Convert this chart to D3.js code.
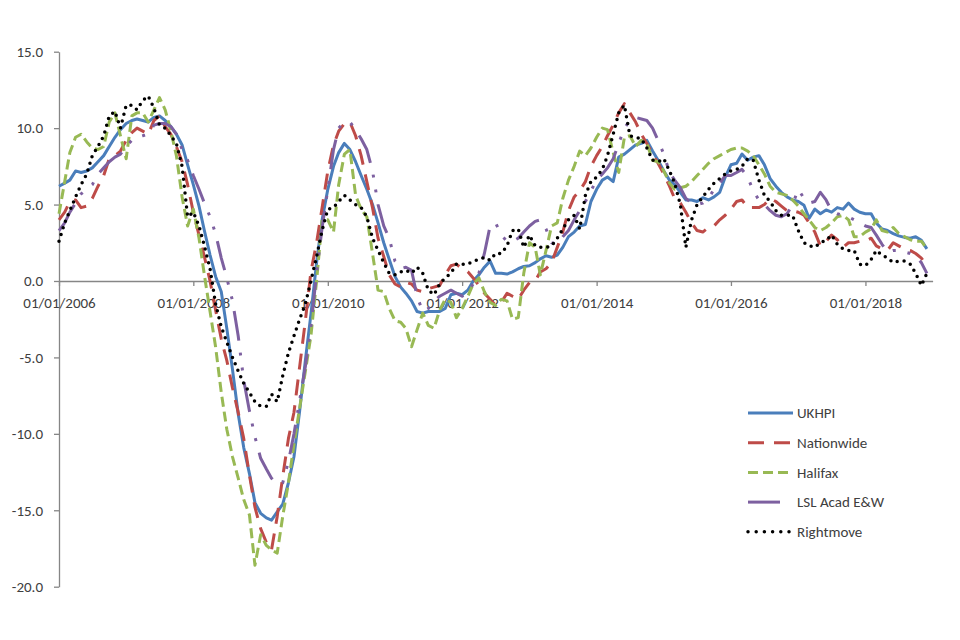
<!DOCTYPE html>
<html><head><meta charset="utf-8">
<script src="https://cdn.jsdelivr.net/npm/d3@7"></script>
<style>
body{margin:0;background:#fff}
svg{display:block}
text{font-family:Carlito,'Liberation Sans',Arial,sans-serif}
</style>
</head><body>
<svg id="chart" width="960" height="640"></svg>
<script>
// ---- data (annual % change, monthly Jan 2006 - Dec 2018) ----
const startYear = 2006;
const ukhpi = [6.2,6.4,6.6,7.2,7.1,7.2,7.4,7.8,8.2,8.8,9.4,9.9,
10.3,10.5,10.6,10.5,10.4,10.7,10.8,10.5,10.1,9.6,8.9,7.6,
6.3,4.9,3.3,1.7,0.3,-0.7,-3.1,-5.8,-8.7,-10.9,-12.6,-14.5,
-15.2,-15.5,-15.65,-15.1,-14.6,-13.2,-11.5,-8.5,-5.2,-2.2,1.2,4.0,
6.0,7.5,8.4,9.0,8.6,7.8,6.9,6.0,5.0,3.8,2.5,1.4,
0.3,-0.4,-0.8,-1.3,-2.0,-2.1,-2.0,-2.0,-2.0,-1.8,-0.9,-0.8,
-0.9,-0.6,0.0,0.4,0.9,1.3,0.5,0.5,0.45,0.6,0.8,0.95,
1.0,1.2,1.45,1.65,1.55,1.7,2.2,2.9,3.2,3.6,3.7,5.2,
6.0,6.6,6.8,6.5,8.1,8.3,8.6,8.9,9.0,9.2,8.5,7.9,
7.2,6.6,6.3,5.8,5.3,5.3,5.2,5.45,5.3,5.5,5.8,6.8,
7.6,7.7,8.3,7.9,8.1,8.2,7.6,6.7,6.2,5.8,5.5,5.3,
5.2,4.95,4.1,4.7,4.4,4.65,4.5,4.8,4.7,5.1,4.7,4.5,
4.4,4.4,3.8,3.4,3.3,3.1,2.95,2.85,2.8,2.9,2.66,2.1];
const nationwide = [4.0,4.5,5.2,5.3,4.8,4.9,5.4,6.2,6.9,8.0,8.2,8.5,
9.2,9.7,10.0,9.8,9.6,10.5,10.8,10.1,9.6,8.8,7.8,6.3,
4.5,3.0,1.6,0.0,-1.9,-3.8,-5.2,-7.0,-8.6,-10.3,-12.7,-14.8,
-16.2,-17.1,-17.6,-15.4,-12.8,-10.3,-8.6,-5.6,-2.6,0.6,2.5,4.8,
7.2,8.9,9.8,10.3,10.4,9.5,8.2,6.5,4.8,2.8,1.6,0.4,
-0.2,-0.4,-0.1,-0.2,-0.6,-0.7,-0.5,-0.4,-0.3,0.4,1.0,1.1,
0.8,0.6,0.2,-0.3,-0.8,-1.2,-1.6,-1.4,-0.8,-1.0,-1.2,-0.6,
-0.1,0.0,0.6,0.8,1.2,2.2,3.2,4.6,5.5,5.9,6.5,7.5,
8.2,8.8,9.5,10.2,11.0,11.6,11.0,10.4,9.6,9.0,8.3,7.7,
7.0,6.2,5.4,5.1,4.5,3.8,3.3,3.2,3.5,3.6,4.0,4.3,
4.7,5.2,5.3,4.8,4.8,4.8,5.0,5.4,5.2,4.9,4.6,4.6,
4.5,4.3,3.8,3.2,2.3,2.6,3.0,2.7,2.2,2.5,2.5,2.6,
2.6,2.8,2.3,2.1,2.0,2.5,2.3,2.1,2.0,1.8,1.5,1.0];
const halifax = [4.4,6.5,8.4,9.4,9.6,9.1,8.7,8.6,8.8,10.4,11.0,9.5,
8.0,10.8,11.0,11.0,10.4,11.2,12.0,11.2,9.8,8.2,5.5,3.6,
4.7,2.8,0.4,-2.0,-4.3,-7.3,-9.7,-11.5,-12.9,-14.3,-15.3,-18.6,
-16.6,-17.3,-17.6,-17.8,-15.4,-13.2,-10.7,-8.3,-5.9,-3.6,0.0,4.0,
4.0,3.2,6.3,8.3,8.6,5.6,4.7,4.2,1.8,-0.6,-0.7,-1.8,
-2.6,-2.7,-3.1,-4.3,-3.2,-2.1,-2.9,-3.1,-1.9,-1.2,-1.4,-2.4,
-1.8,-1.0,-0.2,0.2,-0.7,-1.4,-1.6,-1.2,-1.3,-2.5,-2.4,0.5,
2.5,2.2,0.4,2.0,3.6,3.8,5.4,6.6,7.5,8.5,8.2,8.7,
9.4,10.0,9.9,8.4,7.1,9.4,9.5,8.8,9.2,9.0,7.9,7.8,
7.2,6.4,6.0,6.1,6.2,6.5,6.9,7.3,7.7,8.0,8.2,8.4,
8.6,8.7,8.7,8.5,8.2,7.6,7.0,6.2,5.8,5.7,5.6,5.3,
4.9,4.4,4.0,3.5,3.3,3.5,3.8,4.2,4.3,4.0,2.9,2.9,
3.2,3.4,4.0,3.3,3.2,3.5,3.1,2.9,2.7,2.6,2.6,2.1];
const lsl = [3.3,3.8,4.5,5.1,5.7,6.0,6.3,7.0,7.4,7.8,8.1,8.3,
8.8,9.2,9.4,9.5,9.6,10.2,10.3,10.3,10.1,9.6,8.6,7.9,
6.9,6.0,5.1,4.2,3.1,1.5,0.2,-1.3,-3.6,-6.5,-8.5,-10.2,
-11.6,-12.3,-12.9,-13.3,-13.2,-11.8,-10.0,-7.8,-5.6,-3.0,0.5,3.5,
6.0,8.6,10.0,10.4,10.4,9.9,9.3,8.6,7.2,5.0,3.6,2.8,
1.3,0.8,0.9,0.7,-1.0,-2.0,-1.8,-1.3,-1.0,-0.8,-0.6,-0.8,
-1.0,-0.7,-0.2,0.5,1.8,3.6,3.8,3.0,2.6,2.6,2.8,3.2,
3.6,3.9,4.0,3.4,2.5,2.4,2.9,3.3,4.0,4.6,5.2,5.9,
6.6,7.0,7.4,8.0,9.0,10.0,10.5,10.7,10.6,10.5,10.0,9.2,
8.3,7.1,6.6,6.1,5.4,5.1,5.0,5.1,5.4,6.0,6.4,6.9,
6.9,7.1,7.3,6.8,5.9,5.3,5.0,4.6,4.3,4.2,4.4,5.0,
6.0,5.4,5.1,5.2,5.8,5.3,4.6,4.4,4.3,4.2,4.0,3.8,
3.6,3.5,3.0,2.4,1.9,2.0,2.0,1.9,1.8,1.6,1.2,0.5];
const rightmove = [2.6,3.8,4.6,5.5,6.3,7.0,8.2,8.8,9.5,10.8,11.1,10.0,
11.5,11.5,11.2,11.8,12.1,11.3,10.2,10.0,9.5,9.0,7.5,4.2,
4.5,3.6,2.3,0.8,-1.5,-3.0,-4.0,-5.0,-5.9,-6.7,-7.3,-7.9,
-8.2,-8.2,-7.4,-7.9,-6.2,-4.7,-3.6,-2.5,-1.5,0.0,1.6,3.3,
4.7,4.8,5.2,5.6,5.3,5.0,4.8,4.2,2.8,2.0,1.2,0.5,
0.4,0.6,0.7,0.5,0.9,0.5,-0.6,-0.9,-0.2,0.2,0.5,1.1,
1.1,1.1,1.3,1.4,1.55,1.35,1.8,1.8,2.3,3.3,3.4,2.2,
3.0,2.3,2.2,2.2,2.3,2.8,3.4,4.0,4.3,3.4,5.6,6.5,
6.8,7.3,8.2,9.6,11.0,11.5,9.5,9.4,9.3,8.7,7.9,7.8,
8.0,7.2,6.4,5.0,2.2,4.0,5.0,5.5,6.0,6.4,6.7,7.0,
7.2,7.3,7.5,8.0,7.9,6.6,5.6,5.2,4.6,4.3,4.3,4.3,
3.3,2.5,2.3,2.2,2.5,2.66,3.0,2.4,2.1,2.0,2.0,1.1,
1.0,1.4,2.0,1.7,1.5,1.2,1.3,1.3,1.1,0.5,-0.3,0.5];
const seriesNames = ["UKHPI","Nationwide","Halifax","LSL Acad E&W","Rightmove"];
const seriesValues = [ukhpi, nationwide, halifax, lsl, rightmove];
const yTickValues = [15,10,5,0,-5,-10,-15,-20];
const xTickYears = [2006,2008,2010,2012,2014,2016,2018];

// ---- styles ----
const styles = [
  {color:"#4A7EBB", dash:null, cap:"butt", width:3},
  {color:"#BE4B48", dash:"16 10", cap:"butt", width:3},
  {color:"#98B954", dash:"10 5", cap:"butt", width:3},
  {color:"#7D60A0", dash:"30 12 3 12 3 12", cap:"butt", width:3},
  {color:"#000000", dash:"0 7", cap:"round", width:3.5}
];

const svg = d3.select("#chart");
const dates = d3.range(ukhpi.length).map(i => new Date(Date.UTC(startYear, i, 1)));
const x = d3.scaleUtc()
  .domain([new Date(Date.UTC(startYear,0,1)), new Date(Date.UTC(startYear, ukhpi.length, 1))])
  .range([59, 932.6]);
const y = d3.scaleLinear().domain([-20,15]).range([586.7, 51.7]);

const axisColor = "#868686", textColor = "#404040";

// y axis
const yAxis = svg.append("g").attr("transform","translate(59,0)")
  .call(d3.axisLeft(y).tickValues(yTickValues).tickSize(5).tickSizeOuter(0).tickPadding(11)
    .tickFormat(d => d.toFixed(1)));
// x axis at zero
const xAxis = svg.append("g").attr("transform",`translate(0,${y(0)})`)
  .call(d3.axisBottom(x).tickValues(xTickYears.map(yr => new Date(Date.UTC(yr,0,1))))
    .tickSize(5).tickSizeOuter(0).tickPadding(11).tickFormat(d3.utcFormat("%d/%m/%Y")));
[yAxis, xAxis].forEach(g => {
  g.select(".domain").attr("stroke", axisColor).attr("stroke-width",1.3);
  g.selectAll(".tick line").attr("stroke", axisColor).attr("stroke-width",1.3);
  g.selectAll("text").attr("fill", textColor).style("font-size","15px")
    .style("font-family","Carlito,'Liberation Sans',Arial,sans-serif");
});

// lines
const line = d3.line().x((d,i) => x(dates[i])).y(d => y(d));
seriesValues.forEach((vals, k) => {
  const s = styles[k];
  svg.append("path").datum(vals)
    .attr("d", line)
    .attr("fill","none")
    .attr("stroke", s.color)
    .attr("stroke-width", s.width)
    .attr("stroke-linejoin","round")
    .attr("stroke-linecap", s.cap)
    .attr("stroke-dasharray", s.dash);
});

// legend
const legend = svg.append("g");
seriesNames.forEach((name, k) => {
  const s = styles[k];
  const ly = 413 + k * 29.7;
  const x2 = k === 3 ? 780 : 793;
  legend.append("line").attr("x1",748).attr("x2",x2).attr("y1",ly).attr("y2",ly)
    .attr("stroke", s.color).attr("stroke-width", s.width)
    .attr("stroke-linecap", s.cap)
    .attr("stroke-dasharray", k === 3 ? null : (k === 4 ? "0 8.2" : s.dash));
  legend.append("text").attr("x",797).attr("y",ly).attr("dy","0.35em")
    .attr("fill", textColor).style("font-size","15px").text(name);
});
</script>
</body></html>
